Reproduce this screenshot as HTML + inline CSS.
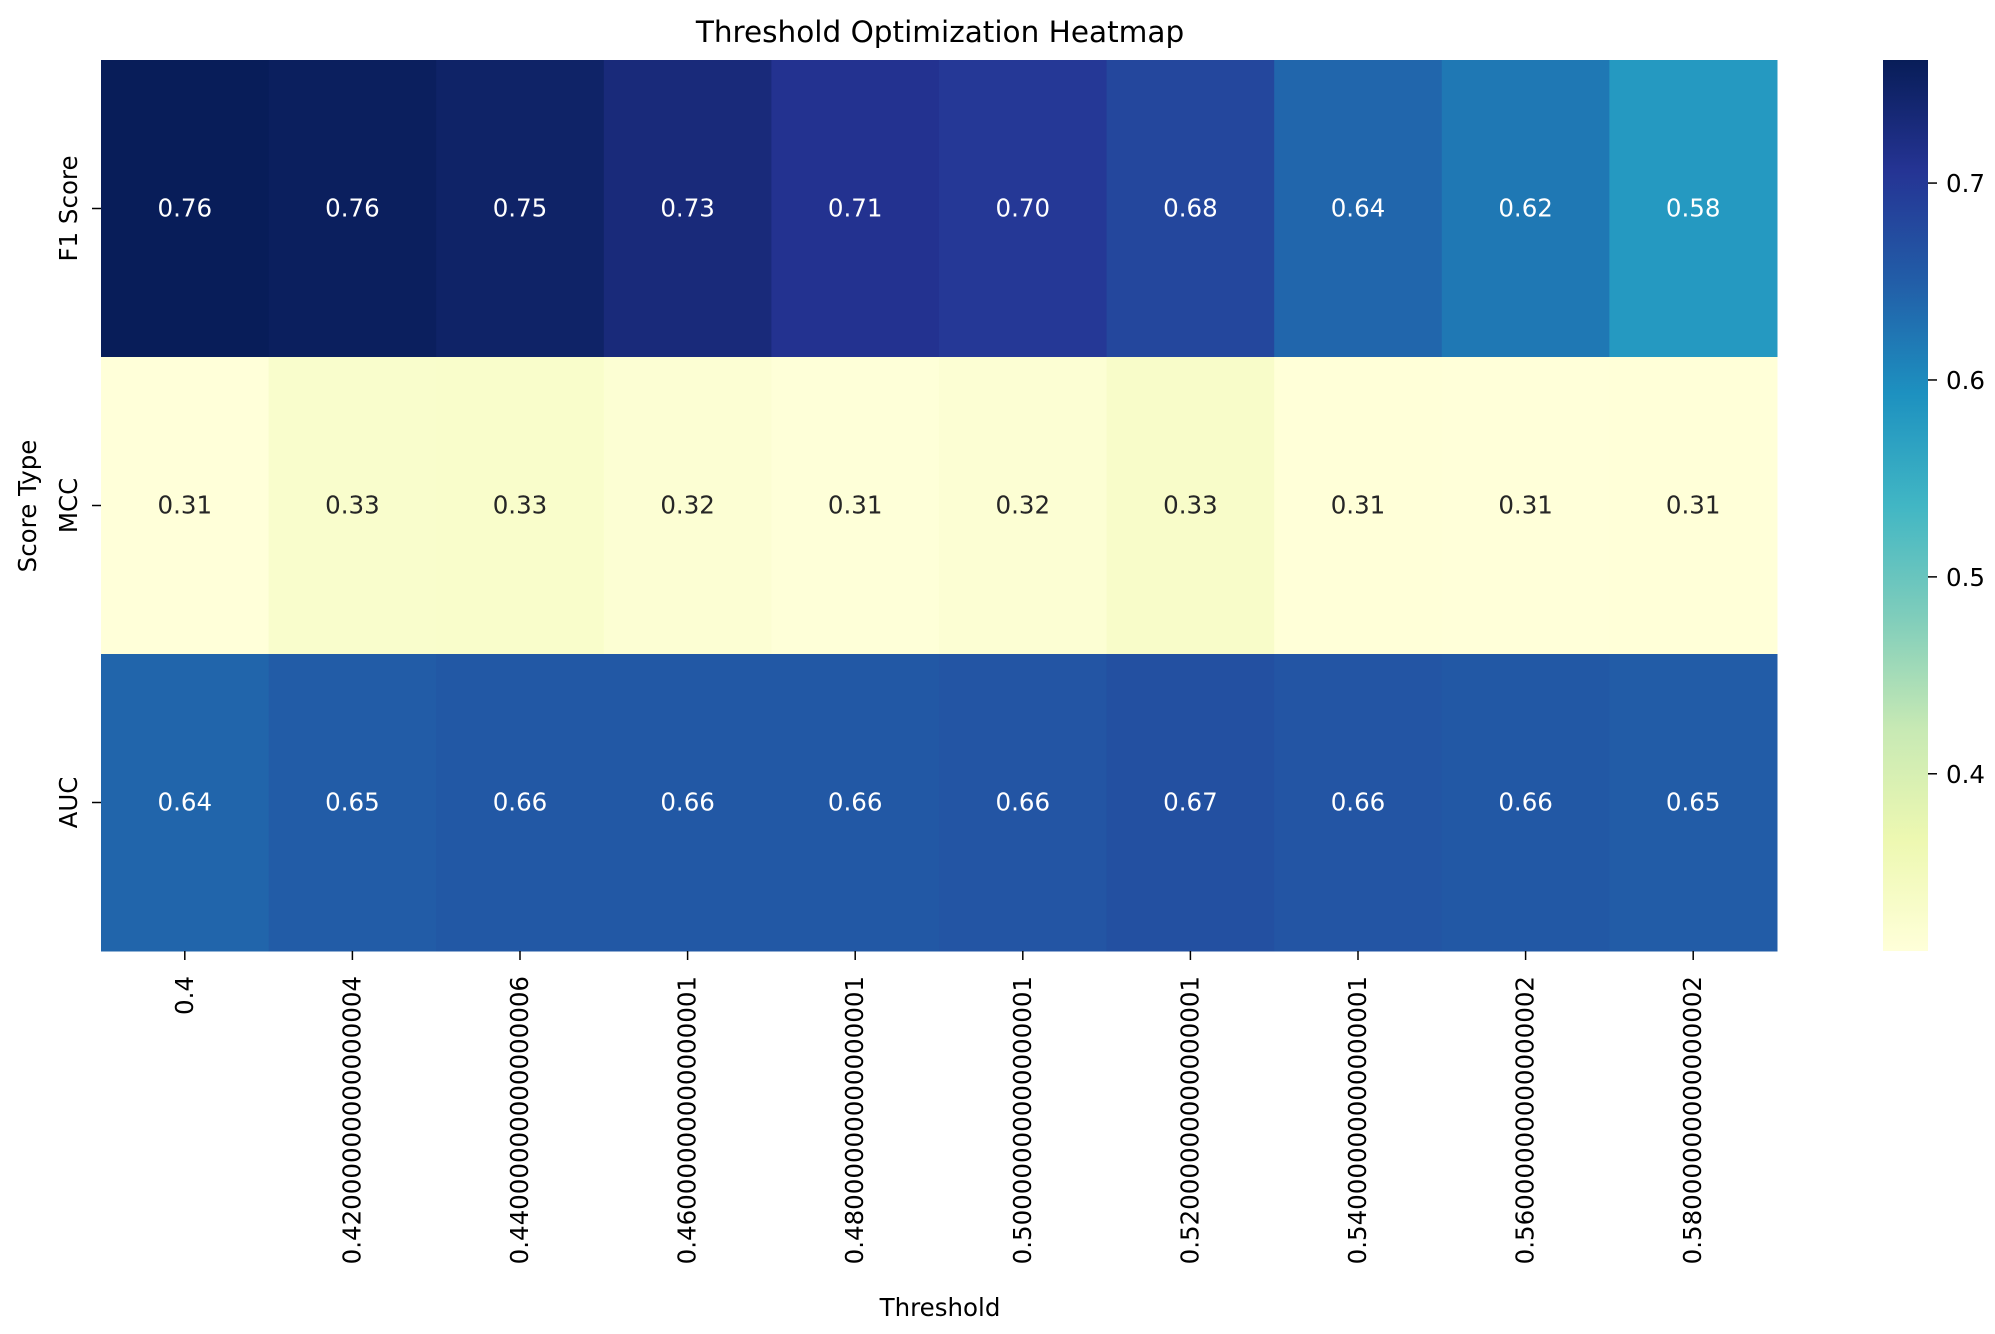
<!DOCTYPE html>
<html><head><meta charset="utf-8"><style>
html,body{margin:0;padding:0;background:#fff;}
svg{display:block;font-family:"DejaVu Sans","Liberation Sans",sans-serif;}
</style></head><body>
<svg id="chart" width="1995" height="1334" viewBox="0 0 1995 1334">
<defs>
<linearGradient id="cbgrad" x1="0" y1="1" x2="0" y2="0">
<stop offset="0" stop-color="#ffffd9"/><stop offset="0.125" stop-color="#edf8b1"/><stop offset="0.25" stop-color="#c7e9b4"/><stop offset="0.375" stop-color="#7fcdbb"/><stop offset="0.5" stop-color="#41b6c4"/><stop offset="0.625" stop-color="#1d91c0"/><stop offset="0.75" stop-color="#225ea8"/><stop offset="0.875" stop-color="#253494"/><stop offset="1" stop-color="#081d58"/>
</linearGradient>
</defs>
<text x="940" y="42" font-size="29.5" text-anchor="middle" fill="#000">Threshold Optimization Heatmap</text>
<g id="cells"></g>
<g id="xticks"></g>
<g id="yticks"></g>
<text x="940" y="1316" font-size="24.5" text-anchor="middle">Threshold</text>
<text transform="translate(36,506) rotate(-90)" font-size="24.5" text-anchor="middle">Score Type</text>
<rect x="1883" y="60" width="45" height="891" fill="url(#cbgrad)"/>
<g id="cbticks"></g>
</svg>
<script>
const categories = ["0.4","0.42000000000000004","0.44000000000000006","0.46000000000000001","0.48000000000000001","0.50000000000000001","0.52000000000000001","0.54000000000000001","0.56000000000000002","0.58000000000000002"];
const rowLabels = ["F1 Score","MCC","AUC"];
const f1Values = [0.762,0.757,0.748,0.730,0.710,0.700,0.680,0.640,0.620,0.580];
const mccValues = [0.310,0.328,0.330,0.318,0.312,0.318,0.332,0.311,0.310,0.311];
const aucValues = [0.642,0.652,0.658,0.657,0.658,0.662,0.668,0.662,0.658,0.652];
const cbTicks = [0.4,0.5,0.6,0.7];
const vmin = 0.31, vmax = 0.7625;

const NS="http://www.w3.org/2000/svg";
const X0=101, X1=1777, Y0=60, Y1=951;
const cw=(X1-X0)/categories.length, rh=(Y1-Y0)/rowLabels.length;
const xCenter=i=>X0+cw*(i+0.5), yCenter=j=>Y0+rh*(j+0.5);
const cbY=v=>Y1-(v-vmin)/(vmax-vmin)*(Y1-Y0);
const stops=["#ffffd9","#edf8b1","#c7e9b4","#7fcdbb","#41b6c4","#1d91c0","#225ea8","#253494","#081d58"].map(h=>[1,3,5].map(k=>parseInt(h.substr(k,2),16)));
function color(v){let t=Math.max(0,Math.min(1,(v-vmin)/(vmax-vmin)))*(stops.length-1);let i=Math.min(stops.length-2,Math.floor(t)),f=t-i;const c=stops[i].map((a,k)=>Math.round(a+(stops[i+1][k]-a)*f));return {s:`rgb(${c.join(',')})`,l:(0.299*c[0]+0.587*c[1]+0.114*c[2])/255};}
function mk(tag,attrs,parent){const e=document.createElementNS(NS,tag);for(const k in attrs)e.setAttribute(k,attrs[k]);parent.appendChild(e);return e;}
const cells=document.getElementById('cells');
const rows=[f1Values,mccValues,aucValues];
rows.forEach((vals,j)=>{vals.forEach((v,i)=>{const c=color(v);
const r=mk('rect',{x:X0+cw*i,y:Y0+rh*j,width:cw+0.5,height:rh+0.5,fill:c.s},cells);


const t=mk('text',{x:xCenter(i),y:yCenter(j)+8,'font-size':24.5,'text-anchor':'middle',fill:c.l>0.5?'#262626':'#ffffff'},cells);
t.textContent=v.toFixed(2);

});});
const xt=document.getElementById('xticks');
categories.forEach((c,i)=>{const x=xCenter(i);
mk('line',{x1:x,y1:Y1,x2:x,y2:Y1+9,stroke:'#000','stroke-width':1.5},xt);
const t=mk('text',{transform:`translate(${x+8},${Y1+25}) rotate(-90)`,'font-size':24.5,'text-anchor':'end'},xt);
t.textContent=c;

});
const yt=document.getElementById('yticks');
rowLabels.forEach((c,j)=>{const y=yCenter(j);
mk('line',{x1:X0-9,y1:y,x2:X0,y2:y,stroke:'#000','stroke-width':1.5},yt);
const t=mk('text',{transform:`translate(${X0-24},${y}) rotate(-90)`,'font-size':24.5,'text-anchor':'middle'},yt);
t.textContent=c;

});
const cb=document.getElementById('cbticks');
cbTicks.forEach(v=>{const y=cbY(v);
mk('line',{x1:1928,y1:y,x2:1937,y2:y,stroke:'#000','stroke-width':1.5},cb);
const t=mk('text',{x:1946,y:y+9,'font-size':24.5},cb);
t.textContent=v.toFixed(1);

});
</script>
</body></html>
